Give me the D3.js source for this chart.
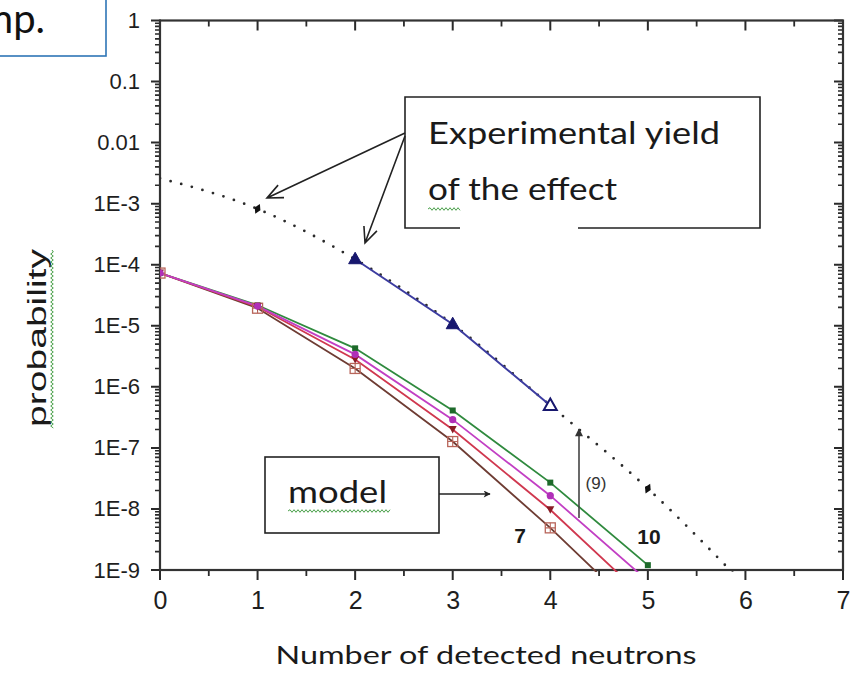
<!DOCTYPE html>
<html>
<head>
<meta charset="utf-8">
<script src="https://cdn.jsdelivr.net/npm/d3@7"></script>
<style>
  html, body { margin: 0; padding: 0; background: #fff; }
  svg { display: block; }
</style>
</head>
<body>
<svg id="chart" width="862" height="673"></svg>
<script>
// ---- data -------------------------------------------------------------
const detected = [0, 1, 2, 3, 4, 5];
const model7  = [7.3e-5, 1.94e-5, 2.0e-6, 1.27e-7, 4.9e-9, 1.45e-10];
const model8  = [7.3e-5, 2.05e-5, 2.8e-6, 2.0e-7, 9.7e-9, 3.1e-10];
const model9  = [7.3e-5, 2.1e-5, 3.4e-6, 2.9e-7, 1.65e-8, 6.6e-10];
const model10 = [7.3e-5, 2.17e-5, 4.27e-6, 4.1e-7, 2.7e-8, 1.2e-9];

const expN = [2, 3, 4];
const expYield = [1.23e-4, 1.06e-5, 4.95e-7];
const expOpen = [false, false, true];

const trendN = [0, 1, 2, 3, 4, 5, 5.9];
const trendP = [2.6e-3, 8.2e-4, 1.23e-4, 1.06e-5, 4.95e-7, 2.15e-8, 8e-10];
const trendMarkedN = [1, 5];

const xTickValues = [0, 1, 2, 3, 4, 5, 6, 7];
const yTickValues = [1, 1e-1, 1e-2, 1e-3, 1e-4, 1e-5, 1e-6, 1e-7, 1e-8, 1e-9];
const yTickLabels = ["1", "0.1", "0.01", "1E-3", "1E-4", "1E-5", "1E-6", "1E-7", "1E-8", "1E-9"];

// ---- layout -----------------------------------------------------------
const X0 = 160, X1 = 843, Y0 = 570, Y1 = 20.5;
const svg = d3.select("#chart");
const x = d3.scaleLinear().domain([0, 7]).range([X0, X1]);
const y = d3.scaleLog().domain([1e-9, 1]).range([Y0, Y1]);

const axisColor = "#2a2a2a";
const tickFont = "'Liberation Sans', Arial, sans-serif";
const textFont = "Lato, 'Open Sans', sans-serif";

// minor tick positions
const xMinor = d3.range(0.5, 7, 1);
const yMinor = [];
for (let k = -9; k < 0; k++) for (let m = 2; m <= 9; m++) yMinor.push(m * Math.pow(10, k));

const axes = svg.append("g");

// one path per set of tick marks
function tickPath(values, scale, vertical, base, from, to, width) {
  const d = values.map(v => {
    const p = scale(v);
    return vertical ? `M${base + from},${p}H${base + to}` : `M${p},${base + from}V${base + to}`;
  }).join("");
  axes.append("path").attr("d", d).attr("fill", "none")
    .attr("stroke", axisColor).attr("stroke-width", width);
}
// bottom: outward
tickPath(xTickValues, x, false, Y0, 0, 10, 2);
tickPath(xMinor, x, false, Y0, 0, 6, 1.8);
// top: inward
tickPath(xTickValues, x, false, Y1, 0, 10, 2);
tickPath(xMinor, x, false, Y1, 0, 6, 1.8);
// left: outward
tickPath(yTickValues, y, true, X0, -9, 1, 2);
tickPath(yMinor, y, true, X0, -5, 1, 1.6);
// right: inward
tickPath(yTickValues, y, true, X1, -9, 0, 2);
tickPath(yMinor, y, true, X1, -5, 0, 1.6);

// frame
axes.append("rect").attr("x", X0).attr("y", Y1).attr("width", X1 - X0).attr("height", Y0 - Y1)
  .attr("fill", "none").attr("stroke", "#333").attr("stroke-width", 2.2);

// tick labels through d3 axes
const bottom = axes.append("g").attr("transform", `translate(0,${Y0})`)
  .call(d3.axisBottom(x).tickValues(xTickValues).tickSize(10).tickSizeOuter(0).tickPadding(11)
    .tickFormat(d3.format("d")));
bottom.select(".domain").remove();
bottom.selectAll(".tick line").remove();
bottom.selectAll(".tick text").attr("fill", "#1e1e1e")
  .style("font-family", tickFont).style("font-size", "25px");

const left = axes.append("g").attr("transform", `translate(${X0},0)`)
  .call(d3.axisLeft(y).tickValues(yTickValues).tickSize(9).tickSizeOuter(0).tickPadding(11)
    .tickFormat((d, i) => yTickLabels[i]));
left.select(".domain").remove();
left.selectAll(".tick line").remove();
left.selectAll(".tick text").attr("fill", "#1e1e1e")
  .style("font-family", tickFont).style("font-size", "22px");

// clip region for the curves
const defs = svg.append("defs");
defs.append("clipPath").attr("id", "plot-clip")
  .append("rect").attr("x", X0).attr("y", Y1).attr("width", X1 - X0).attr("height", Y0 - Y1 + 2);

defs.append("marker").attr("id", "arrow-fill").attr("viewBox", "0 0 10 10")
  .attr("refX", 9).attr("refY", 5).attr("markerWidth", 10).attr("markerHeight", 7)
  .attr("markerUnits", "userSpaceOnUse").attr("orient", "auto")
  .append("path").attr("d", "M0,0 L10,5 L0,10 L2.5,5 Z").attr("fill", "#222");
defs.append("marker").attr("id", "arrow-gray").attr("viewBox", "0 0 10 10")
  .attr("refX", 9).attr("refY", 5).attr("markerWidth", 14).attr("markerHeight", 8)
  .attr("markerUnits", "userSpaceOnUse").attr("orient", "auto")
  .append("path").attr("d", "M0,0 L10,5 L0,10 Z").attr("fill", "#333");

const plot = svg.append("g").attr("clip-path", "url(#plot-clip)");

// ---- experimental trend (dotted) --------------------------------------
const trendLine = d3.line().x((d, i) => x(trendN[i])).y(d => y(d)).curve(d3.curveMonotoneX);
plot.append("path").attr("d", trendLine(trendP))
  .attr("fill", "none").attr("stroke", "#2a2a2a").attr("stroke-width", 2.8)
  .attr("stroke-linecap", "round").attr("stroke-dasharray", "0 11");
plot.selectAll(".trend-mark").data(trendN.map((n, i) => [n, trendP[i]]).filter(d => trendMarkedN.includes(d[0])))
  .enter().append("path")
  .attr("d", d3.symbol(d3.symbolDiamond, 34)())
  .attr("transform", d => `translate(${x(d[0])},${y(d[1])}) rotate(25)`)
  .attr("fill", "#111");

// ---- model curves -----------------------------------------------------
const modelSeries = [
  { values: model10, line: "#2f8a3e", mark: "#1d6a2a", shape: "square" },
  { values: model7,  line: "#6e3c33", mark: "#b8655a", shape: "crossSquare" },
  { values: model8,  line: "#d0384f", mark: "#8a1c24", shape: "triangleDown" },
  { values: model9,  line: "#c23fc4", mark: "#b02fb8", shape: "circle" }
];
const modelLine = d3.line().x((d, i) => x(detected[i])).y(d => y(d));
modelSeries.forEach(s => {
  plot.append("path").attr("d", modelLine(s.values))
    .attr("fill", "none").attr("stroke", s.line).attr("stroke-width", 1.8);
});
modelSeries.forEach(s => {
  const g = plot.append("g");
  s.values.forEach((v, i) => {
    const cx = x(detected[i]), cy = y(v);
    if (s.shape === "square") {
      g.append("rect").attr("x", cx - 3).attr("y", cy - 3).attr("width", 6).attr("height", 6)
        .attr("fill", s.mark);
    } else if (s.shape === "circle") {
      g.append("circle").attr("cx", cx).attr("cy", cy).attr("r", 3.6).attr("fill", s.mark);
    } else if (s.shape === "triangleDown") {
      g.append("path").attr("d", `M${cx - 4},${cy - 3.5} L${cx + 4},${cy - 3.5} L${cx},${cy + 4} Z`)
        .attr("fill", s.mark);
    } else {
      g.append("rect").attr("x", cx - 5).attr("y", cy - 5).attr("width", 10).attr("height", 10)
        .attr("fill", "none").attr("stroke", s.mark).attr("stroke-width", 1.3);
      g.append("path").attr("d", `M${cx - 5},${cy} H${cx + 5} M${cx},${cy - 5} V${cy + 5}`)
        .attr("stroke", s.mark).attr("stroke-width", 1.1);
    }
  });
});

// ---- experimental yield (blue) ----------------------------------------
const expLine = d3.line().x((d, i) => x(expN[i])).y(d => y(d));
plot.append("path").attr("d", expLine(expYield))
  .attr("fill", "none").attr("stroke", "#3c3ca0").attr("stroke-width", 2);
expYield.forEach((v, i) => {
  const cx = x(expN[i]), cy = y(v);
  plot.append("path").attr("d", `M${cx},${cy - 7} L${cx + 6.5},${cy + 4.5} L${cx - 6.5},${cy + 4.5} Z`)
    .attr("fill", expOpen[i] ? "#fff" : "#17176e")
    .attr("stroke", "#17176e").attr("stroke-width", expOpen[i] ? 2 : 1);
});

// ---- annotations ------------------------------------------------------
const ann = svg.append("g");

// wavy spell-check style underline
function squiggle(x0, x1, yy) {
  let d = `M${x0},${yy}`;
  let up = true;
  for (let xx = x0 + 2; xx <= x1; xx += 2) { d += ` L${xx},${yy + (up ? -1.3 : 1.3)}`; up = !up; }
  return d;
}

// top-left text box, running off the page edge
ann.append("rect").attr("x", -10).attr("y", -10).attr("width", 116).attr("height", 66)
  .attr("fill", "#fff").attr("stroke", "#2e75b6").attr("stroke-width", 1.6);
ann.append("text").attr("x", 45).attr("y", 33).attr("text-anchor", "end")
  .style("font-family", textFont).style("font-size", "40px").attr("fill", "#111").text("mp.");

// "Experimental yield of the effect" box with a gap in the bottom edge
ann.append("path")
  .attr("d", "M460,228 H405 V97 H760 V228 H578")
  .attr("fill", "none").attr("stroke", "#222").attr("stroke-width", 1.6);
ann.append("text").attr("x", 428).attr("y", 144)
  .attr("textLength", 292).attr("lengthAdjust", "spacingAndGlyphs")
  .style("font-family", textFont).style("font-size", "31px").attr("fill", "#1a1a1a").text("Experimental yield");
ann.append("text").attr("x", 428).attr("y", 200)
  .attr("textLength", 189).attr("lengthAdjust", "spacingAndGlyphs")
  .style("font-family", textFont).style("font-size", "31px").attr("fill", "#1a1a1a").text("of the effect");
ann.append("path").attr("d", squiggle(428, 461, 209))
  .attr("fill", "none").attr("stroke", "#4aa04a").attr("stroke-width", 1);

// open arrows from the box to the data
function openArrow(x0, y0, x1, y1) {
  const a = Math.atan2(y1 - y0, x1 - x0), L = 17, w = 0.42;
  ann.append("path")
    .attr("d", `M${x0},${y0} L${x1},${y1} M${x1 - L * Math.cos(a - w)},${y1 - L * Math.sin(a - w)} L${x1},${y1} L${x1 - L * Math.cos(a + w)},${y1 - L * Math.sin(a + w)}`)
    .attr("fill", "none").attr("stroke", "#222").attr("stroke-width", 1.6);
}
openArrow(405, 133, 267, 198);
openArrow(405, 136, 365, 243);

// "model" box
ann.append("rect").attr("x", 265).attr("y", 457).attr("width", 174).attr("height", 76)
  .attr("fill", "#fff").attr("stroke", "#222").attr("stroke-width", 1.6);
ann.append("text").attr("x", 288).attr("y", 503)
  .attr("textLength", 99).attr("lengthAdjust", "spacingAndGlyphs")
  .style("font-family", textFont).style("font-size", "31px").attr("fill", "#1a1a1a").text("model");
ann.append("path").attr("d", squiggle(288, 390, 511))
  .attr("fill", "none").attr("stroke", "#4aa04a").attr("stroke-width", 1);
ann.append("line").attr("x1", 439).attr("y1", 494).attr("x2", 490).attr("y2", 494)
  .attr("stroke", "#222").attr("stroke-width", 1.5).attr("marker-end", "url(#arrow-fill)");

// curve labels
ann.append("text").attr("x", 520).attr("y", 543).attr("text-anchor", "middle")
  .style("font-family", tickFont).style("font-size", "21px").style("font-weight", "bold")
  .attr("fill", "#1a1a1a").text("7");
ann.append("text").attr("x", 649).attr("y", 544).attr("text-anchor", "middle")
  .style("font-family", tickFont).style("font-size", "21px").style("font-weight", "bold")
  .attr("fill", "#1a1a1a").text("10");

// (9) arrow
ann.append("line").attr("x1", 579).attr("y1", 518).attr("x2", 579).attr("y2", 429)
  .attr("stroke", "#444").attr("stroke-width", 1.6).attr("marker-end", "url(#arrow-gray)");
ann.append("text").attr("x", 596).attr("y", 489).attr("text-anchor", "middle")
  .style("font-family", tickFont).style("font-size", "17px").attr("fill", "#333").text("(9)");

// axis titles
ann.append("text").attr("x", 486).attr("y", 664).attr("text-anchor", "middle")
  .attr("textLength", 421).attr("lengthAdjust", "spacingAndGlyphs")
  .style("font-family", textFont).style("font-size", "25px").attr("fill", "#1a1a1a")
  .text("Number of detected neutrons");
ann.append("text").attr("transform", "translate(46,338) rotate(-90)").attr("text-anchor", "middle")
  .attr("textLength", 178).attr("lengthAdjust", "spacingAndGlyphs")
  .style("font-family", tickFont).style("font-size", "25px").attr("fill", "#1a1a1a")
  .text("probability");
ann.append("path").attr("d", squiggle(250, 428, 0))
  .attr("transform", "translate(52,0) rotate(90)")
  .attr("fill", "none").attr("stroke", "#4aa04a").attr("stroke-width", 1);
</script>
</body>
</html>
